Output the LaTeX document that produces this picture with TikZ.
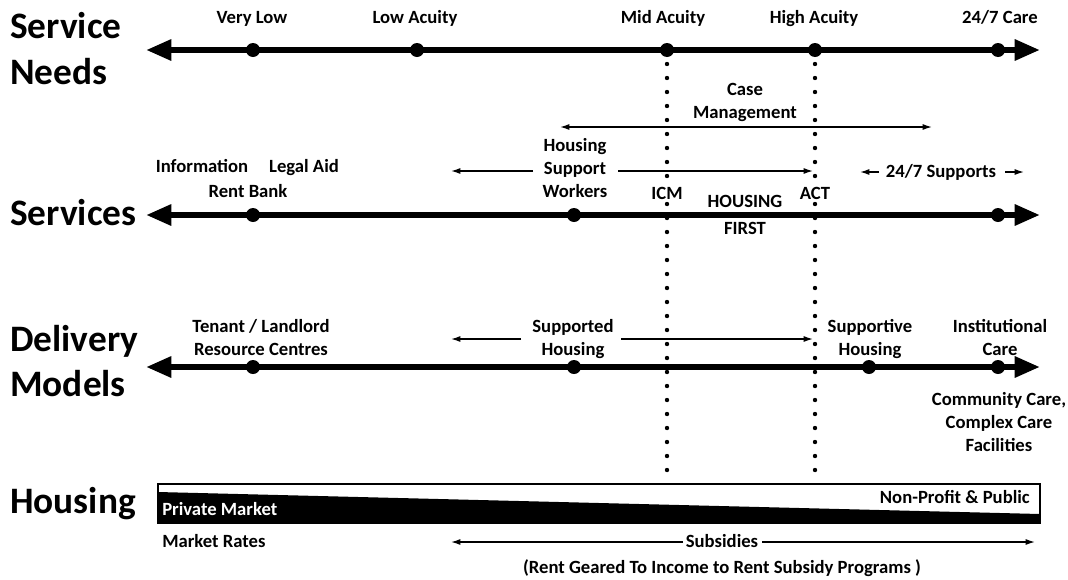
\documentclass[tikz,border=0pt]{standalone}
\usepackage{fontspec}
\setmainfont{Carlito}
\usetikzlibrary{arrows.meta}
\begin{document}
\begin{tikzpicture}[x=0.75pt,y=-0.75pt,
  lab/.style={font=\bfseries\fontsize{14}{17.25}\selectfont, align=center, inner sep=0pt, anchor=base},
  ttl/.style={font=\bfseries\fontsize{28}{34}\selectfont, inner sep=0pt, anchor=base west},
  axis/.style={line width=4.5pt, {Triangle[length=19pt,width=15pt]}-{Triangle[length=19pt,width=15pt]}},
  bigdot/.style={circle, fill=black, inner sep=0pt, minimum size=10.5pt},
  thinarrow/.style={line width=1pt, -{Latex[length=7pt,width=4.5pt]}},
  dblarrow/.style={line width=1pt, {Latex[length=7pt,width=4.5pt]}-{Latex[length=7pt,width=4.5pt]}},
  dotline/.style={line width=3.3pt, line cap=round, dash pattern=on 0pt off 10.5pt}]
\useasboundingbox (0,0) rectangle (1068,579);

% ---------- titles
\node[ttl] (tSN1) at (10,38) {Service};
\node[ttl] (tSN2) at (10,84) {Needs};
\node[ttl] (tSV) at (10,225) {Services};
\node[ttl] (tDM1) at (10,351) {Delivery};
\node[ttl] (tDM2) at (10,396) {Models};
\node[ttl] (tH) at (10,513) {Housing};

% ---------- dotted lines
\coordinate (d1t) at (667,64);
\coordinate (d1b) at (667,478);
\coordinate (d2t) at (815,64);
\coordinate (d2b) at (815,478);
\draw[dotline] (d1t) -- (d1b);
\draw[dotline] (d2t) -- (d2b);

% ---------- Service Needs axis
\coordinate (snL) at (146,50);
\coordinate (snR) at (1040,50);
\draw[axis] (snL) -- (snR);
\node[bigdot] (sn1) at (253,50) {};
\node[bigdot] (sn2) at (417,50) {};
\node[bigdot] (sn3) at (667,50) {};
\node[bigdot] (sn4) at (815,50) {};
\node[bigdot] (sn5) at (998,50) {};
\node[lab] (lsn1) at (252,23) {Very Low};
\node[lab] (lsn2) at (415,23) {Low Acuity};
\node[lab] (lsn3) at (663,23) {Mid Acuity};
\node[lab] (lsn4) at (814,23) {High Acuity};
\node[lab] (lsn5) at (1000,23) {24/7 Care};

% ---------- Case management
\node[lab] (cm) at (745,118) {Case\\Management};
\coordinate (cmL) at (560,127);
\coordinate (cmR) at (932,127);
\draw[dblarrow] (cmL) -- (cmR);

% ---------- Services axis
\coordinate (svL) at (146,215);
\coordinate (svR) at (1040,215);
\draw[axis] (svL) -- (svR);
\node[bigdot] (sv1) at (253,215) {};
\node[bigdot] (sv2) at (574,215) {};
\node[bigdot] (sv3) at (998,215) {};
\node[lab] (info) at (202,172) {Information};
\node[lab] (legal) at (304,172) {Legal Aid};
\node[lab] (rent) at (248,197) {Rent Bank};
\node[lab] (hsw) at (575,197) {Housing\\Support\\Workers};
\coordinate (hswLs) at (533,171);
\coordinate (hswL) at (451,171);
\coordinate (hswRs) at (618,171);
\coordinate (hswR) at (813,171);
\draw[thinarrow] (hswLs) -- (hswL);
\draw[thinarrow] (hswRs) -- (hswR);
\node[lab, fill=white, inner sep=1pt] (icm) at (667,199) {ICM};
\node[lab, fill=white, inner sep=1pt] (act) at (815,199) {ACT};
\node[lab] (hf) at (745,234) {HOUSING\\[2.5pt]FIRST};
\node[lab] (s247) at (941,177) {24/7 Supports};
\coordinate (s247Ls) at (879,172);
\coordinate (s247L) at (860,172);
\coordinate (s247Rs) at (1005,172);
\coordinate (s247R) at (1024,172);
\draw[thinarrow] (s247Ls) -- (s247L);
\draw[thinarrow] (s247Rs) -- (s247R);

% ---------- Delivery Models axis
\coordinate (dmL) at (146,367);
\coordinate (dmR) at (1040,367);
\draw[axis] (dmL) -- (dmR);
\node[bigdot] (dm1) at (253,367) {};
\node[bigdot] (dm2) at (574,367) {};
\node[bigdot] (dm3) at (869,367) {};
\node[bigdot] (dm4) at (998,367) {};
\node[lab] (tlr) at (261,355) {Tenant / Landlord\\Resource Centres};
\node[lab] (sup) at (573,355) {Supported\\Housing};
\coordinate (supLs) at (521,339);
\coordinate (supL) at (451,339);
\coordinate (supRs) at (621,339);
\coordinate (supR) at (813,339);
\draw[thinarrow] (supLs) -- (supL);
\draw[thinarrow] (supRs) -- (supR);
\node[lab] (sptv) at (870,355) {Supportive\\Housing};
\node[lab] (inst) at (1000,355) {Institutional\\Care};
\node[lab] (comm) at (999,451) {Community Care,\\Complex Care\\Facilities};

% ---------- Housing bar
\draw[line width=1pt, fill=white] (158,484) rectangle (1040,523);
\fill (158,492) -- (1040,514) -- (1040,523) -- (158,523) -- cycle;
\draw[line width=1pt] (158,484) rectangle (1040,523);
\node[lab, anchor=base west, text=white] (pm) at (162,515) {Private Market};
\node[lab, anchor=base east] (np) at (1030,503) {Non-Profit \& Public};
\node[lab, anchor=base west] (mr) at (162,547) {Market Rates};
\node[lab] (subs) at (722,547) {Subsidies};
\coordinate (subLs) at (683,542);
\coordinate (subL) at (451,542);
\coordinate (subRs) at (762,542);
\coordinate (subR) at (1035,542);
\draw[thinarrow] (subLs) -- (subL);
\draw[thinarrow] (subRs) -- (subR);
\node[lab] (rgi) at (722,573) {(Rent Geared To Income to Rent Subsidy Programs )};
\end{tikzpicture}
\end{document}
